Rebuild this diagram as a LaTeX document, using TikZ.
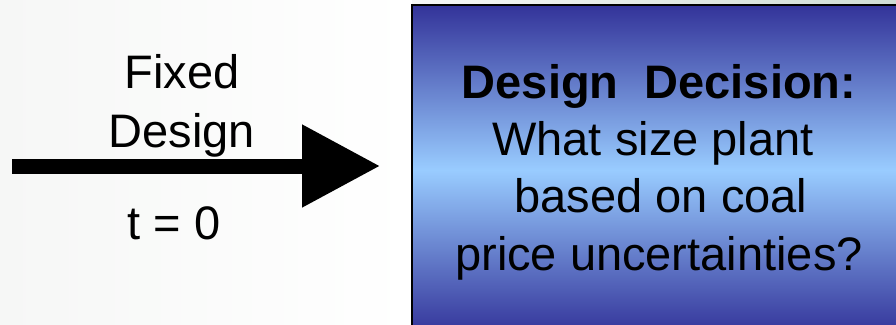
\documentclass[tikz,border=0pt]{standalone}
\usepackage{fontspec}
\setmainfont{Liberation Sans}
\usetikzlibrary{arrows.meta}
\definecolor{boxdark}{HTML}{333399}
\definecolor{boxlight}{HTML}{99CCFF}
\definecolor{bgright}{HTML}{D0DDD5}
\definecolor{bgleft}{HTML}{F6F7F6}
\pgfdeclareverticalshading{boxshade}{100bp}{color(0bp)=(boxdark); color(25bp)=(boxdark); color(50bp)=(boxlight); color(75bp)=(boxdark); color(100bp)=(boxdark)}
\tikzset{
  lbl/.style={anchor=base, inner sep=0pt, font=\fontsize{47}{52}\selectfont},
  blbl/.style={lbl, font=\fontsize{47}{52}\selectfont\bfseries},
  bigarrow/.style={line width=15pt, -{Triangle[length=78pt, width=79pt]}},
}
\begin{document}
\begin{tikzpicture}[x=1pt, y=-1pt]
\useasboundingbox (0,0) rectangle (896,324);
\begin{scope}
\clip (0,0) rectangle (896,324);
\shade[left color=bgleft, right color=white] (0,0) rectangle (412,324);
\shade[left color=bgleft, right color=bgright] (412,0) rectangle (896,10);
\fill[gray!70] (415,8) rectangle (910,340);
\shade[shading=boxshade, draw=black, line width=1.5pt] (412,5) rectangle (906,335);
\end{scope}
\node[lbl] (fixed) at (182,88) {Fixed};
\node[lbl] (design) at (182,147) {Design};
\node[lbl] (t0) at (174,239) {t = 0};
\coordinate (as) at (12,166);
\coordinate (ae) at (380,166);
\draw[bigarrow] (as) -- (ae);
\node[blbl] (l1) at (659,98) {Design\ \ Decision:};
\node[lbl] (l2) at (653,155) {What size plant};
\node[lbl] (l3) at (661,212) {based on coal};
\node[lbl] (l4) at (659,270) {price uncertainties?};
\end{tikzpicture}
\end{document}
